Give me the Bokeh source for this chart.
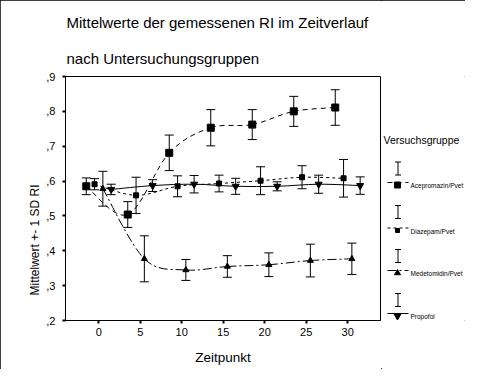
from bokeh.plotting import figure
from bokeh.models import ColumnDataSource, Whisker, TeeHead, Title, FixedTicker, Row
from bokeh.embed import file_html
from bokeh.resources import INLINE
from bokeh.core.properties import value

# ---------------- data ----------------
zeitpunkte = [0, 5, 10, 15, 20, 25, 30]
gruppen = ["Acepromazin/Pvet", "Diazepam/Pvet", "Medetomidin/Pvet", "Propofol"]
versatz = [-1.5, -0.5, 0.5, 1.5]

acepromazin_mw = [0.585, 0.504, 0.681, 0.753, 0.762, 0.800, 0.811]
acepromazin_sd = [0.024, 0.037, 0.051, 0.052, 0.043, 0.043, 0.051]
diazepam_mw = [0.591, 0.559, 0.585, 0.593, 0.601, 0.611, 0.608]
diazepam_sd = [0.016, 0.052, 0.030, 0.024, 0.040, 0.033, 0.054]
medetomidin_mw = [0.578, 0.377, 0.345, 0.355, 0.360, 0.372, 0.377]
medetomidin_sd = [0.050, 0.066, 0.030, 0.031, 0.034, 0.047, 0.045]
propofol_mw = [0.576, 0.587, 0.591, 0.585, 0.585, 0.591, 0.587]
propofol_sd = [0.015, 0.017, 0.025, 0.023, 0.013, 0.026, 0.025]

y_ticks = [0.2, 0.3, 0.4, 0.5, 0.6, 0.7, 0.8, 0.9]
y_tick_labels = [",2", ",3", ",4", ",5", ",6", ",7", ",8", ",9"]
x_ticks = [0, 5, 10, 15, 20, 25, 30]

mittelwerte = [acepromazin_mw, diazepam_mw, medetomidin_mw, propofol_mw]
sds = [acepromazin_sd, diazepam_sd, medetomidin_sd, propofol_sd]

# ---------------- styles ----------------
FONT = "Liberation Sans"
dashes = ["5 4", "3 3", "9 3 2 3", "solid"]
markers = ["square", "square", "triangle", "inverted_triangle"]
msizes = [7, 5, 6, 7]

p = figure(width=381, height=369, x_range=(-4, 33.95), y_range=(0.2, 0.9),
           output_backend="svg", toolbar_location=None, title=None,
           min_border_left=65, min_border_right=1,
           min_border_top=76, min_border_bottom=49)
p.xgrid.visible = False
p.ygrid.visible = False
p.outline_line_color = "black"
p.outline_line_alpha = 1
p.outline_line_width = 1
p.background_fill_color = "white"
p.border_fill_color = "white"

for ax in (p.xaxis[0], p.yaxis[0]):
    ax.axis_line_color = "black"
    ax.major_tick_in = 0
    ax.major_tick_out = 3
    ax.major_tick_line_width = 2
    ax.major_tick_line_color = "black"
    ax.minor_tick_line_color = None
    ax.major_label_text_font = FONT
    ax.major_label_text_font_size = "11px"
    ax.major_label_text_color = "black"
p.xaxis.ticker = FixedTicker(ticks=x_ticks)
p.xaxis.major_label_standoff = 4
p.xaxis.axis_label = "Zeitpunkt"
p.xaxis.axis_label_text_font = FONT
p.xaxis.axis_label_text_font_size = "13.5px"
p.xaxis.axis_label_text_font_style = "normal"
p.xaxis.axis_label_text_color = "black"
p.xaxis.axis_label_standoff = 11
p.yaxis.ticker = FixedTicker(ticks=y_ticks)
p.yaxis.major_label_overrides = {t: l for t, l in zip(y_ticks, y_tick_labels)}
p.yaxis.major_label_standoff = 7

# titles (first added sits closest to the frame)
p.add_layout(Title(text="nach Untersuchungsgruppen", align="left", offset=1,
                   standoff=19, text_font=FONT, text_font_size="15px",
                   text_font_style="normal", text_color="black"), "above")
p.add_layout(Title(text="Mittelwerte der gemessenen RI im Zeitverlauf",
                   align="left", offset=1, standoff=15, text_font=FONT,
                   text_font_size="15px", text_font_style="normal",
                   text_color="black"), "above")
p.add_layout(Title(text="Mittelwert +- 1 SD RI", align="left", offset=25,
                   standoff=4, text_font=FONT, text_font_size="12px",
                   text_font_style="normal", text_color="black"), "left")


def spline_segments(xs, ys):
    n = len(xs)
    seg = dict(x0=[], y0=[], x1=[], y1=[], cx0=[], cy0=[], cx1=[], cy1=[])
    for i in range(n - 1):
        a = max(i - 1, 0)
        b = min(i + 2, n - 1)
        seg["x0"].append(xs[i]); seg["y0"].append(ys[i])
        seg["x1"].append(xs[i + 1]); seg["y1"].append(ys[i + 1])
        seg["cx0"].append(xs[i] + (xs[i + 1] - xs[a]) / 6)
        seg["cy0"].append(ys[i] + (ys[i + 1] - ys[a]) / 6)
        seg["cx1"].append(xs[i + 1] - (xs[b] - xs[i]) / 6)
        seg["cy1"].append(ys[i + 1] - (ys[b] - ys[i]) / 6)
    return seg


for g, (mw, sd) in enumerate(zip(mittelwerte, sds)):
    xs = [t + versatz[g] for t in zeitpunkte]
    src = ColumnDataSource(dict(x=xs, y=mw,
                                upper=[m + s for m, s in zip(mw, sd)],
                                lower=[m - s for m, s in zip(mw, sd)]))
    seg = ColumnDataSource(spline_segments(xs, mw))
    p.bezier(x0="x0", y0="y0", x1="x1", y1="y1", cx0="cx0", cy0="cy0",
             cx1="cx1", cy1="cy1", source=seg, line_color="black",
             line_width=1, line_dash=dashes[g])
    p.add_layout(Whisker(source=src, base="x", upper="upper", lower="lower",
                         line_color="black", line_width=1,
                         upper_head=TeeHead(size=9, line_color="black", line_width=1),
                         lower_head=TeeHead(size=9, line_color="black", line_width=1)))
    p.scatter(x="x", y="y", source=src, marker=markers[g], size=msizes[g],
              fill_color="black", line_color="black")

# ---------------- legend panel (its frame is aligned with the plot frame,
# so its ranges are expressed in page pixels: 76..320 vertically) ----------------
q = figure(width=84, height=369, x_range=(381, 465), y_range=(320, 76),
           output_backend="svg", toolbar_location=None, title=None,
           x_axis_location=None, y_axis_location=None, min_border=0)
q.xgrid.visible = False
q.ygrid.visible = False
q.outline_line_color = None
q.background_fill_color = "white"
q.border_fill_color = "white"

q.text(x=[383], y=[139], text=["Versuchsgruppe"], text_font=value(FONT),
       text_font_size="10.5px", text_color="black", text_baseline="middle")

ibeam_top = [161.5, 205, 249, 293]
line_y = [182, 227.5, 270, 313]
leg_msizes = [6, 4, 6, 7]
for g in range(4):
    t = ibeam_top[g]
    q.segment(x0=[397.5, 394.5, 394.5], y0=[t, t, t + 13],
              x1=[397.5, 400.5, 400.5], y1=[t + 13, t, t + 13],
              line_color="black", line_width=1)
    q.segment(x0=[387], y0=[line_y[g]], x1=[408], y1=[line_y[g]],
              line_color="black", line_width=1, line_dash=dashes[g])
    q.scatter(x=[397], y=[line_y[g] + 2.5], marker=markers[g],
              size=leg_msizes[g], fill_color="black", line_color="black")
    q.text(x=[410], y=[line_y[g] + 3], text=[gruppen[g]], text_font=value(FONT),
           text_font_size="6.5px", text_color="black",
           text_baseline="middle")

layout = Row(children=[p, q],
             styles={"outline": "1px solid black", "outline-offset": "-1px"})

open("out.html", "w").write(file_html(layout, INLINE))
